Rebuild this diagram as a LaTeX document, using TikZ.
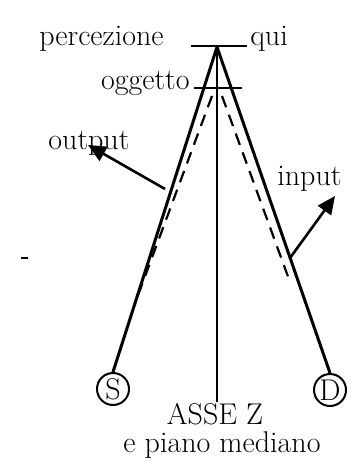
\documentclass[tikz,border=0pt]{standalone}
\usetikzlibrary{arrows.meta}
\begin{document}
\begin{tikzpicture}[x=0.5pt,y=-0.5pt,
  lbl/.style={font=\fontsize{15}{17}\selectfont, inner sep=0pt},
  side/.style={line width=1.5pt},
  axis/.style={line width=0.9pt},
  bar/.style={line width=1.1pt},
  ray/.style={line width=1.1pt, dash pattern=on 6pt off 4pt},
  pointer/.style={line width=1.3pt, -{Triangle[length=9pt,width=8pt]}},
  eye/.style={circle, draw, line width=1pt, minimum size=16pt, inner sep=0pt, font=\fontsize{15}{17}\selectfont}]
\useasboundingbox (0,0) rectangle (357,464);
% nodes
\coordinate (A) at (217,47);
\node[eye] (S) at (113,389) {S};
\node[eye] (D) at (330,390) {D};
% perception bar
\coordinate (pl) at (191,46);
\coordinate (pr) at (247,46);
\draw[bar] (pl) -- (pr);
\node[lbl, anchor=base east] (perc) at (164,46) {percezione};
\node[lbl, anchor=base west] (qui) at (250,46) {qui};
% object bar
\coordinate (ol) at (194,88);
\coordinate (or) at (242,88);
\draw[bar] (ol) -- (or);
\node[lbl, anchor=base east] (ogg) at (190,90) {oggetto};
% sides
\draw[side] (A) -- (S.north);
\draw[side] (A) -- (D.north);
% axis
\coordinate (zb) at (217,402);
\draw[axis] (A) -- (zb);
% dashed rays
\coordinate (l1) at (212,96);
\coordinate (l2) at (134,306);
\coordinate (r1) at (222,96);
\coordinate (r2) at (290,282);
\draw[ray] (l1) -- (l2);
\draw[ray] (r1) -- (r2);
% output
\coordinate (ot) at (165,189);
\coordinate (oh) at (88,145);
\draw[pointer] (ot) -- (oh);
\node[lbl, anchor=base west] (out) at (48,150) {output};
% input
\coordinate (it) at (290,258);
\coordinate (ih) at (335,196);
\draw[pointer] (it) -- (ih);
\node[lbl, anchor=base west] (in) at (277,186) {input};
% stray tick
\coordinate (t1) at (21,258);
\coordinate (t2) at (28,258);
\draw[line width=1pt] (t1) -- (t2);
% axis labels
\node[lbl, anchor=base] (asse) at (215,424) {ASSE Z};
\node[lbl, anchor=base] (piano) at (222,452) {e piano mediano};
\end{tikzpicture}
\end{document}
